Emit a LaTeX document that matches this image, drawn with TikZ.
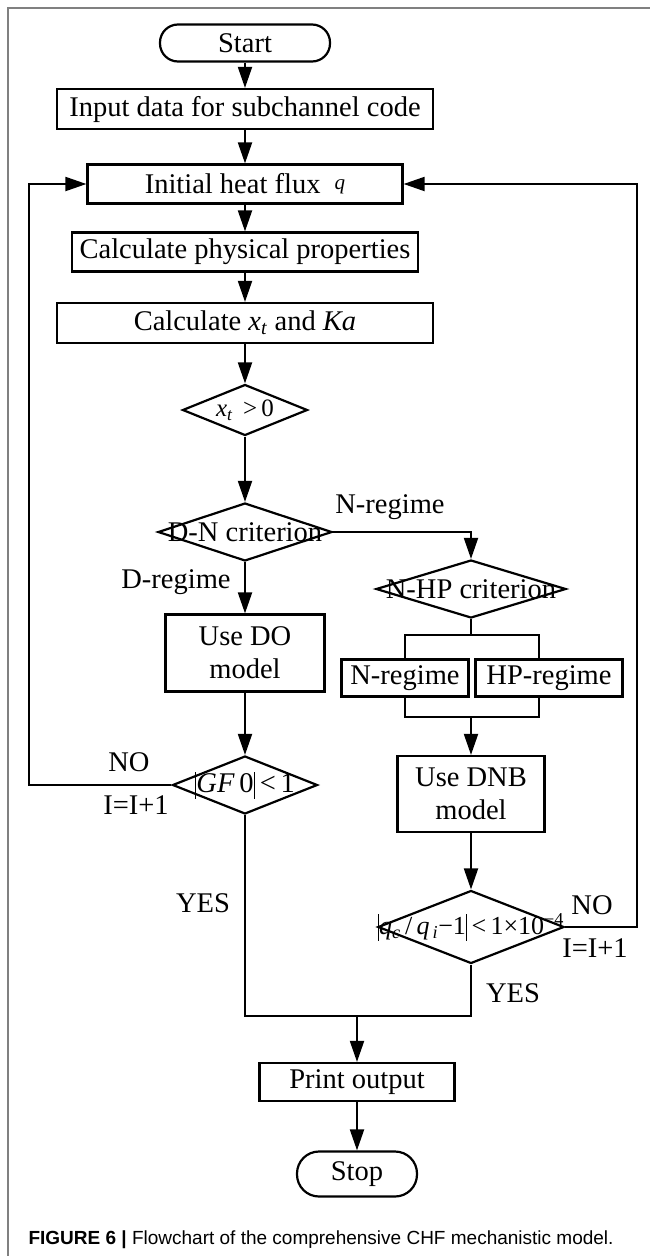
\documentclass[tikz,border=0pt]{standalone}
\usepackage{fontspec}
\setmainfont{Liberation Serif}
\newfontfamily\capfont{Liberation Sans}
\usetikzlibrary{shapes.geometric,arrows.meta}
\def\lw{2.2pt}
\newcommand{\absbar}{\rule[-6pt]{1.3pt}{27pt}}
\newcommand{\xt}{\textit{x}\textsubscript{\textit{t}}}

\begin{document}
\begin{tikzpicture}[x=1pt,y=-1pt,
  every node/.style={font=\fontsize{28.5}{33}\selectfont},
  box/.style={draw, line width=\lw, inner sep=0pt, align=center},
  term/.style={draw, line width=\lw, inner sep=0pt, rounded corners=18pt},
  decision/.style 2 args={draw, diamond, line width=\lw, inner sep=0pt, minimum width=#1, minimum height=#2},
  flow/.style={line width=2pt, -{Triangle[length=21pt,width=14pt]}},
  link/.style={line width=2pt}]
\useasboundingbox (0,0) rectangle (650,1256);
\draw[gray, line width=1.5pt] (8,1256) -- (8,8) -- (650,8);

\node[term, minimum width=170pt, minimum height=37pt] (start) at (245,43) {Start};
\node[box, minimum width=376pt, minimum height=40pt] (input) at (245,109) {Input data for subchannel code};
\node[box, minimum width=315pt, minimum height=39pt] (init) at (245,184) {Initial heat flux \ \raisebox{4pt}{\fontsize{21}{21}\selectfont\textit{q}}};
\node[box, minimum width=346pt, minimum height=39pt] (phys) at (245,252) {Calculate physical properties};
\node[box, minimum width=376pt, minimum height=40pt] (calc) at (245,323) {Calculate \xt{} and \textit{Ka}};

\node[decision={125pt}{51pt}] (xt) at (245,410) {};
\node (xt-text) at (xt) {\fontsize{25}{25}\selectfont\xt{} \,>\,0};
\node[decision={174pt}{58pt}] (dn) at (245,532) {};
\node (dn-text) at (dn) {D-N criterion};
\node[decision={190pt}{58pt}] (nhp) at (471,589) {};
\node (nhp-text) at (nhp) {N-HP criterion};

\node[box, minimum width=159pt, minimum height=77pt] (do) at (245,653) {Use DO\\model};
\node[box, minimum width=127pt, minimum height=37pt] (nreg) at (405,678) {N-regime};
\node[box, minimum width=147pt, minimum height=37pt] (hpreg) at (549,678) {HP-regime};
\node[box, minimum width=147pt, minimum height=76pt] (dnb) at (471,794) {Use DNB\\model};

\node[decision={145pt}{58pt}] (gf) at (245,785) {};
\node (gf-text) at (gf) {\absbar\textit{GF}\,0\absbar\,<\,1};
\node[decision={186pt}{73pt}] (crit) at (471,927) {};
\node (crit-text) at (crit) {\fontsize{26}{26}\selectfont\absbar\textit{q}\textsubscript{\textit{c}}\,/\,\textit{q}\textsubscript{\,\textit{i}}−1\absbar\,<\,1×10\textsuperscript{−4}};

\node[box, minimum width=195pt, minimum height=38pt] (print) at (357,1082) {Print output};
\node[term, minimum width=120pt, minimum height=45pt, rounded corners=22pt] (stop) at (357,1174) {Stop};

\node (nlab) at (390,507) {N-regime};
\node (dlab) at (176,582) {D-regime};
\node (no-left) at (129,762) {NO};
\node (inc-left) at (136,805) {I=I+1};
\node (yes-left) at (203,903) {YES};
\node (no-right) at (592,905) {NO};
\node (inc-right) at (595,948) {I=I+1};
\node (yes-right) at (513,993) {YES};

\coordinate (loopL) at (29,184);
\coordinate (loopR) at (637,184);
\coordinate (forkT) at (471,635);
\coordinate (forkB) at (471,717);
\coordinate (merge) at (357,1016);

\draw[flow] (start) -- (input);
\draw[flow] (input) -- (init);
\draw[flow] (init) -- (phys);
\draw[flow] (phys) -- (calc);
\draw[flow] (calc) -- (xt.north);
\draw[flow] (xt.south) -- (dn.north);
\draw[flow] (dn.east) -| (nhp.north);
\draw[flow] (dn.south) -- (do.north);
\draw[link] (nhp.south) -- (forkT);
\draw[link] (nreg.north) |- (forkT) -| ([xshift=-10pt]hpreg.north);
\draw[link] (nreg.south) |- (forkB) -| ([xshift=-10pt]hpreg.south);
\draw[flow] (forkB) -- (dnb.north);
\draw[flow] (do.south) -- (gf.north);
\draw[flow] (gf.west) -| (loopL) -- (init.west);
\draw[flow] (dnb.south) -- (crit.north);
\draw[flow] (crit.east) -| (loopR) -- (init.east);
\draw[link] (gf.south) |- (merge) -| (crit.south);
\draw[flow] (merge) -- (print.north);
\draw[flow] (print) -- (stop);

\node[anchor=base west, font=\capfont\fontsize{19}{21}\selectfont] (caption) at (25,1244) {\textbf{FIGURE 6 |} Flowchart of the comprehensive CHF mechanistic model.};
\end{tikzpicture}
\end{document}
